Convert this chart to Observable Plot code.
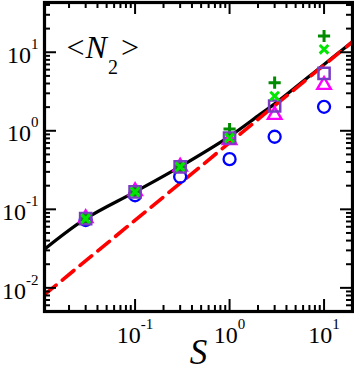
<!DOCTYPE html>
<html><head><meta charset="utf-8">
<script src="https://cdn.jsdelivr.net/npm/d3@7"></script>
<script src="https://cdn.jsdelivr.net/npm/@observablehq/plot@0.6"></script>
<style>html,body{margin:0;padding:0;background:#fff}svg{display:block}</style>
</head><body><div id="chart"></div>
<script>
// ---- data ----
const S = [0.03, 0.1, 0.3, 1, 3, 10];
const circleN   = [0.073, 0.151, 0.26, 0.435, 0.84, 2.02];
const triangleN = [0.077, 0.17, 0.35, 0.76, 1.59, 3.83];
const squareN   = [0.076, 0.167, 0.347, 0.81, 2.07, 5.38];
const timesN    = [0.076, 0.167, 0.347, 0.81, 2.77, 10.9];
const plusN     = [0.076, 0.167, 0.347, 1.05, 4.1, 16.1];

const solidS = [0.011, 0.03, 0.1, 0.3, 1, 2, 3, 10, 20];
const solidN = [0.031, 0.076, 0.167, 0.35, 0.85, 1.55, 2.2, 7.0, 13.6];
const dashS = [0.011, 20];
const dashN = [0.0082, 13.6];

const xMajor = [0.1, 1, 10];
const xMinor = [0.02,0.03,0.04,0.05,0.06,0.07,0.08,0.09,0.2,0.3,0.4,0.5,0.6,0.7,0.8,0.9,2,3,4,5,6,7,8,9];
const yMajor = [0.01, 0.1, 1, 10];
const yMinor = [0.006,0.007,0.008,0.009,0.02,0.03,0.04,0.05,0.06,0.07,0.08,0.09,0.2,0.3,0.4,0.5,0.6,0.7,0.8,0.9,2,3,4,5,6,7,8,9,20,30,40];

const yLabel = "<N2>";
const xLabel = "S";

// ---- layout ----
const W = 354, H = 372;
const mL = 44, mR = 2, mT = 2, mB = 61;
const pw = W - mL - mR, ph = H - mT - mB;
const serif = "'Liberation Serif','Times New Roman',serif";

const pts = (xs, ys) => xs.map((s, i) => ({S: s, N: ys[i]}));
const tickFmt = d => "10^" + Math.round(Math.log10(d));

const chart = Plot.plot({
  width: W, height: H,
  marginLeft: mL, marginRight: mR, marginTop: mT, marginBottom: mB,
  style: {fontFamily: serif, background: "#fff", color: "black"},
  x: {type: "log", domain: [0.011, 20]},
  y: {type: "log", domain: [0.005, 43]},
  marks: [
    Plot.line(pts(solidS, solidN), {x: "S", y: "N", stroke: "black", strokeWidth: 3.2, curve: "catmull-rom", clip: true}),
    Plot.line(pts(dashS, dashN), {x: "S", y: "N", stroke: "#ff0000", strokeWidth: 3.6, strokeDasharray: "15,8", clip: true}),
    Plot.dot(pts(S, circleN), {x: "S", y: "N", symbol: "circle", r: 6, fill: "none", stroke: "#0000ff", strokeWidth: 2.3}),
    Plot.dot(pts(S, triangleN), {x: "S", y: "N", symbol: "triangle", r: 5, fill: "none", stroke: "#ff00ff", strokeWidth: 2.4}),
    Plot.dot(pts(S, plusN), {x: "S", y: "N", symbol: "plus", r: 4, fill: "none", stroke: "#008b00", strokeWidth: 3}),
    Plot.dot(pts(S, squareN), {x: "S", y: "N", symbol: "square", r: 6.3, fill: "none", stroke: "#7b3cc4", strokeWidth: 2.5}),
    Plot.dot(pts(S, timesN), {x: "S", y: "N", symbol: "times", r: 4, fill: "none", stroke: "#00e600", strokeWidth: 3}),
    // ticks, all four sides, pointing inward
    Plot.tickX(xMajor, {x: d => d, insetTop: ph - 12, stroke: "black", strokeWidth: 2}),
    Plot.tickX(xMajor, {x: d => d, insetBottom: ph - 12, stroke: "black", strokeWidth: 2}),
    Plot.tickX(xMinor, {x: d => d, insetTop: ph - 6, stroke: "black", strokeWidth: 2}),
    Plot.tickX(xMinor, {x: d => d, insetBottom: ph - 6, stroke: "black", strokeWidth: 2}),
    Plot.tickY(yMajor, {y: d => d, insetRight: pw - 12, stroke: "black", strokeWidth: 2}),
    Plot.tickY(yMajor, {y: d => d, insetLeft: pw - 12, stroke: "black", strokeWidth: 2}),
    Plot.tickY(yMinor, {y: d => d, insetRight: pw - 6, stroke: "black", strokeWidth: 2}),
    Plot.tickY(yMinor, {y: d => d, insetLeft: pw - 6, stroke: "black", strokeWidth: 2}),
    Plot.frame({stroke: "black", strokeWidth: 3.2}),
    // tick labels
    Plot.axisX(xMajor, {anchor: "bottom", tickSize: 0, tickPadding: 14, tickFormat: tickFmt, fontSize: 24, label: null}),
    Plot.axisY(yMajor, {anchor: "left", tickSize: 0, tickPadding: 6, tickFormat: tickFmt, fontSize: 24, dy: 3, label: null}),
    // labels
    Plot.text([yLabel], {frameAnchor: "top-left", dx: 22, dy: 33, textAnchor: "start", fontSize: 32, text: d => d}),
    Plot.text([xLabel], {frameAnchor: "bottom", dy: 52, fontSize: 35, fontStyle: "italic", text: d => d})
  ]
});

// superscripts / subscripts as real text
const svg = chart.tagName.toLowerCase() === "svg" ? chart : chart.querySelector("svg");
d3.select(svg).selectAll("text").each(function () {
  const t = this.textContent;
  const m = /^10\^(-?\d+)$/.exec(t);
  const sel = d3.select(this);
  if (m) {
    sel.text("10");
    sel.append("tspan").attr("dy", -14).attr("font-size", 15).text(m[1]);
  } else if (t === yLabel) {
    sel.text("");
    sel.append("tspan").text("<");
    sel.append("tspan").attr("font-style", "italic").attr("dx", 1).text("N");
    sel.append("tspan").attr("font-size", 20).attr("dy", 16).attr("dx", 1).text("2");
    sel.append("tspan").attr("dy", -16).attr("dx", 3).text(">");
  }
});
document.getElementById("chart").appendChild(chart);
</script>
</body></html>
